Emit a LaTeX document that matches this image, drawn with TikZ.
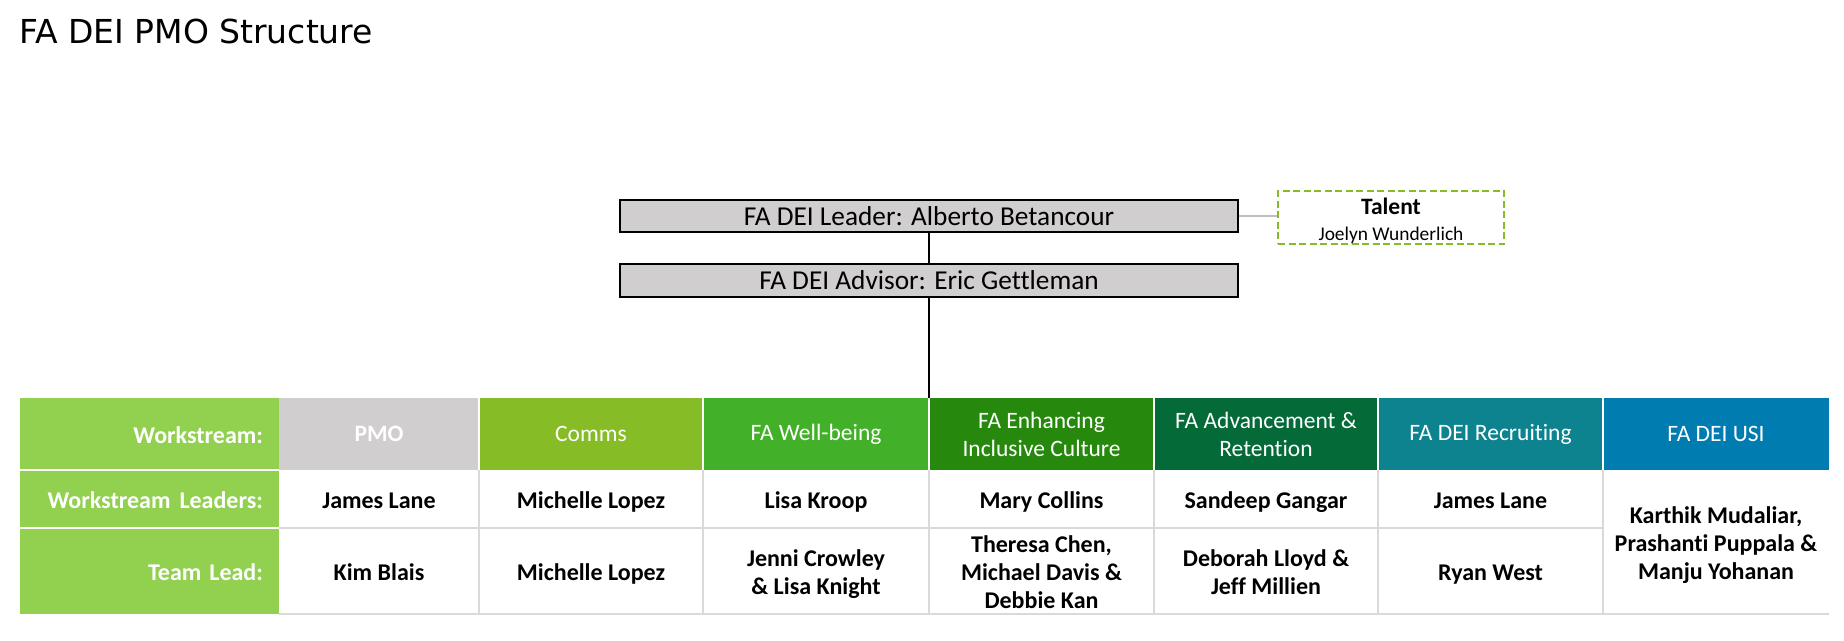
\documentclass[tikz,border=0pt]{standalone}
\usepackage{fontspec}
\setmainfont{Carlito}[Ligatures=NoCommon]
\newfontfamily\titlefont{DejaVu Sans}

\definecolor{labgreen}{HTML}{92D050}
\definecolor{cPMO}{HTML}{D0CECE}
\definecolor{cComms}{HTML}{86BC25}
\definecolor{cWell}{HTML}{43B02A}
\definecolor{cEnh}{HTML}{26890D}
\definecolor{cAdv}{HTML}{046A38}
\definecolor{cRec}{HTML}{0D8390}
\definecolor{cUSI}{HTML}{007CB0}
\definecolor{gridgray}{HTML}{D9D9D9}
\definecolor{boxgray}{HTML}{D0CECE}
\definecolor{linkgray}{HTML}{BFBFBF}
\definecolor{talentgreen}{HTML}{86BC25}

% fixed line strut for table text: 23.4pt above, 4.6pt below the baseline
\newcommand\cs{\rule[-4.6pt]{0pt}{28pt}}

\begin{document}
\begin{tikzpicture}[x=1pt,y=-1pt,
  cellbase/.style={anchor=north west, inner sep=0pt, outer sep=0pt, align=center},
  labcell/.style={cellbase, fill=labgreen, text=white, inner xsep=16pt, text width=227pt, align=right,
    minimum width=259pt, font=\bfseries\fontsize{24}{28}\selectfont},
  hdr/.style={cellbase, text=white, minimum height=72pt, font=\fontsize{23.5}{28}\selectfont},
  namecell/.style={cellbase, fill=white, text=black, font=\bfseries\fontsize{24}{28}\selectfont},
  orgbox/.style={draw=black, line width=2pt, fill=boxgray, minimum width=618pt, inner sep=0pt,
    font=\fontsize{27.3}{30}\selectfont},
  talentbox/.style={draw=talentgreen, line width=2.6pt, dash pattern=on 7pt off 3.5pt, fill=white,
    minimum width=226pt, minimum height=53pt, inner sep=0pt, align=center,
    font=\fontsize{19.4}{26}\selectfont},
  orgline/.style={draw=black, line width=2.5pt},
  gridline/.style={draw=gridgray, line width=2pt},
  sepline/.style={draw=white, line width=2pt}
]
\useasboundingbox (0,0) rectangle (1844,640);

% heading
\node[anchor=base west, inner sep=0pt, font=\titlefont\fontsize{33}{38}\selectfont] (title) at (19,43) {FA DEI PMO Structure};

% leadership boxes
\node[orgbox, minimum height=32pt] (leader) at (929,216) {FA DEI Leader: Alberto Betancour};
\node[orgbox, minimum height=33pt] (advisor) at (929,280) {FA DEI Advisor: Eric Gettleman};
\node[talentbox] (talent) at (1391,217.5)
  {\rule{0pt}{23pt}{\bfseries\fontsize{23.5}{26}\selectfont Talent}\\Joelyn Wunderlich\rule[-4pt]{0pt}{4pt}};

% row labels
\node[labcell, minimum height=72pt] (lab-ws) at (20,398) {\cs Workstream:};
\node[labcell, minimum height=58pt] (lab-wl) at (20,470) {\cs Workstream\hspace{9pt}Leaders:};
\node[labcell, minimum height=86pt] (lab-tl) at (20,528) {\cs Team Lead:};

% workstream headers
\node[hdr, fill=cPMO,   minimum width=200pt, font=\bfseries\fontsize{23.5}{28}\selectfont] (h-pmo) at (279,398) {PMO};
\node[hdr, fill=cComms, minimum width=224pt] (h-com) at (479,398) {Comms};
\node[hdr, fill=cWell,  minimum width=226pt] (h-wb)  at (703,398) {FA Well-being};
\node[hdr, fill=cEnh,   minimum width=225pt] (h-enh) at (929,398) {FA Enhancing\\Inclusive Culture};
\node[hdr, fill=cAdv,   minimum width=224pt] (h-adv) at (1154,398) {FA Advancement \&\\Retention};
\node[hdr, fill=cRec,   minimum width=225pt] (h-rec) at (1378,398) {FA DEI Recruiting};
\node[hdr, fill=cUSI,   minimum width=226pt] (h-usi) at (1603,398) {FA DEI USI};

% workstream leaders
\node[namecell, minimum width=200pt, minimum height=58pt] (l-pmo) at (279,470) {\cs James Lane};
\node[namecell, minimum width=224pt, minimum height=58pt] (l-com) at (479,470) {\cs Michelle Lopez};
\node[namecell, minimum width=226pt, minimum height=58pt] (l-wb)  at (703,470) {\cs Lisa Kroop};
\node[namecell, minimum width=225pt, minimum height=58pt] (l-enh) at (929,470) {\cs Mary Collins};
\node[namecell, minimum width=224pt, minimum height=58pt] (l-adv) at (1154,470) {\cs Sandeep Gangar};
\node[namecell, minimum width=225pt, minimum height=58pt] (l-rec) at (1378,470) {\cs James Lane};

% team leads
\node[namecell, minimum width=200pt, minimum height=86pt] (t-pmo) at (279,528) {\cs Kim Blais};
\node[namecell, minimum width=224pt, minimum height=86pt] (t-com) at (479,528) {\cs Michelle Lopez};
\node[namecell, minimum width=226pt, minimum height=86pt] (t-wb)  at (703,528) {\cs Jenni Crowley\\\cs\&~Lisa Knight};
\node[namecell, minimum width=225pt, minimum height=86pt] (t-enh) at (929,528) {\cs Theresa Chen,\\\cs Michael Davis \&\\\cs Debbie Kan};
\node[namecell, minimum width=224pt, minimum height=86pt] (t-adv) at (1154,528) {\cs Deborah Lloyd \&\\\cs Jeff Millien};
\node[namecell, minimum width=225pt, minimum height=86pt] (t-rec) at (1378,528) {\cs Ryan West};

% USI leaders and team lead share one cell
\node[namecell, minimum width=226pt, minimum height=144pt] (p-usi) at (1603,470)
  {\cs Karthik Mudaliar,\\\cs Prashanti Puppala \&\\\cs Manju Yohanan};

% separators inside the label column and header row
\draw[sepline] (lab-ws.south west) -- (lab-ws.south east);
\draw[sepline] (lab-wl.south west) -- (lab-wl.south east);
\foreach \c in {h-com,h-wb,h-enh,h-adv,h-rec,h-usi}
  \draw[sepline] (\c.north west) -- (\c.south west);

% grid of the name cells
\draw[gridline] (l-pmo.south west) -- (l-rec.south east);
\draw[gridline] (t-pmo.south west) -- (p-usi.south east);
\foreach \c in {t-com,t-wb,t-enh,t-adv,t-rec}
  \draw[gridline] (\c.south west) -- (\c.south west |- l-pmo.north);
\draw[gridline] (p-usi.south west) -- (p-usi.north west);

% reporting lines
\draw[orgline] (leader.south) -- (advisor.north);
\draw[orgline] (advisor.south) -- (advisor.south |- h-enh.north);
\draw[draw=linkgray, line width=2pt] (leader.east) -- (leader.east -| talent.west);

\end{tikzpicture}
\end{document}
